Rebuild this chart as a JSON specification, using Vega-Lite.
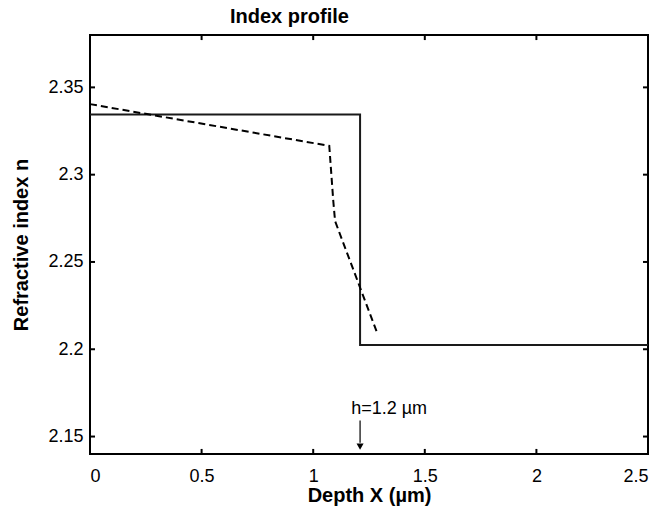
{
  "$schema": "https://vega.github.io/schema/vega-lite/v6.json",
  "width": 558,
  "height": 419,
  "autosize": "none",
  "padding": {"left": 90, "top": 35, "right": 14, "bottom": 53},
  "background": "white",
  "config": {
    "font": "Liberation Sans",
    "view": {"stroke": "black", "strokeWidth": 2},
    "axis": {"domain": false, "ticks": false, "grid": false, "labelColor": "black", "titleColor": "black", "labelFont": "Liberation Sans", "titleFont": "Liberation Sans", "labelFontSize": 18, "titleFontSize": 20, "titleFontWeight": "bold"}
  },
  "title": {"text": "Index profile", "anchor": "start", "frame": "group", "dx": 140, "offset": -9, "baseline": "alphabetic", "fontSize": 20, "fontWeight": "bold", "font": "Liberation Sans", "color": "black"},
  "datasets": {
    "step": [
      {"i": 0, "x": 0, "n": 2.3345},
      {"i": 1, "x": 1.21, "n": 2.3345},
      {"i": 2, "x": 1.21, "n": 2.2025},
      {"i": 3, "x": 2.5, "n": 2.2025}
    ],
    "graded": [
      {"i": 0, "x": 0, "n": 2.3404},
      {"i": 1, "x": 1.072, "n": 2.3165},
      {"i": 2, "x": 1.09, "n": 2.2849},
      {"i": 3, "x": 1.098, "n": 2.2734},
      {"i": 4, "x": 1.284, "n": 2.2102}
    ],
    "arrow": [{"x": 1.21, "n": 2.1592, "n2": 2.1465, "tip": 2.1442, "label": "h=1.2 µm", "lx": 1.34, "ly": 2.1627}],
    "xticks": [{"t": 0.5}, {"t": 1}, {"t": 1.5}, {"t": 2}],
    "yticks": [{"t": 2.15}, {"t": 2.2}, {"t": 2.25}, {"t": 2.3}, {"t": 2.35}]
  },
  "layer": [
    {
      "data": {"name": "step"},
      "mark": {"type": "line", "color": "#1a1a1a", "strokeWidth": 2},
      "encoding": {
        "x": {"field": "x", "type": "quantitative", "scale": {"domain": [0, 2.5], "nice": false, "zero": false},
              "axis": {"orient": "bottom", "title": "Depth X (µm)", "values": [0, 0.5, 1, 1.5, 2, 2.5], "format": "~g", "labelPadding": 13, "titlePadding": 0}},
        "y": {"field": "n", "type": "quantitative", "scale": {"domain": [2.14, 2.38], "nice": false, "zero": false},
              "axis": {"orient": "left", "title": "Refractive index n", "values": [2.15, 2.2, 2.25, 2.3, 2.35], "format": "~g", "labelPadding": 7, "titlePadding": 16}},
        "order": {"field": "i"}
      }
    },
    {
      "data": {"name": "graded"},
      "mark": {"type": "line", "color": "black", "strokeWidth": 2, "strokeDash": [7, 4]},
      "encoding": {
        "x": {"field": "x", "type": "quantitative"},
        "y": {"field": "n", "type": "quantitative"},
        "order": {"field": "i"}
      }
    },
    {
      "data": {"name": "xticks"},
      "mark": {"type": "rule", "color": "black", "strokeWidth": 2},
      "encoding": {
        "x": {"field": "t", "type": "quantitative"},
        "y": {"datum": 2.14},
        "y2": {"datum": 2.1429}
      }
    },
    {
      "data": {"name": "xticks"},
      "mark": {"type": "rule", "color": "black", "strokeWidth": 2},
      "encoding": {
        "x": {"field": "t", "type": "quantitative"},
        "y": {"datum": 2.38},
        "y2": {"datum": 2.3771}
      }
    },
    {
      "data": {"name": "yticks"},
      "mark": {"type": "rule", "color": "black", "strokeWidth": 2},
      "encoding": {
        "y": {"field": "t", "type": "quantitative"},
        "x": {"datum": 0},
        "x2": {"datum": 0.0224}
      }
    },
    {
      "data": {"name": "yticks"},
      "mark": {"type": "rule", "color": "black", "strokeWidth": 2},
      "encoding": {
        "y": {"field": "t", "type": "quantitative"},
        "x": {"datum": 2.5},
        "x2": {"datum": 2.4776}
      }
    },
    {
      "data": {"name": "arrow"},
      "mark": {"type": "rule", "color": "black", "strokeWidth": 1.2},
      "encoding": {
        "x": {"field": "x", "type": "quantitative"},
        "y": {"field": "n", "type": "quantitative"},
        "y2": {"field": "n2"}
      }
    },
    {
      "data": {"name": "arrow"},
      "mark": {"type": "point", "shape": "triangle-down", "filled": true, "color": "black", "size": 50, "opacity": 1},
      "encoding": {
        "x": {"field": "x", "type": "quantitative"},
        "y": {"field": "tip", "type": "quantitative"}
      }
    },
    {
      "data": {"name": "arrow"},
      "mark": {"type": "text", "fontSize": 18, "font": "Liberation Sans", "color": "black", "align": "center", "baseline": "alphabetic"},
      "encoding": {
        "x": {"field": "lx", "type": "quantitative"},
        "y": {"field": "ly", "type": "quantitative"},
        "text": {"field": "label"}
      }
    }
  ]
}
